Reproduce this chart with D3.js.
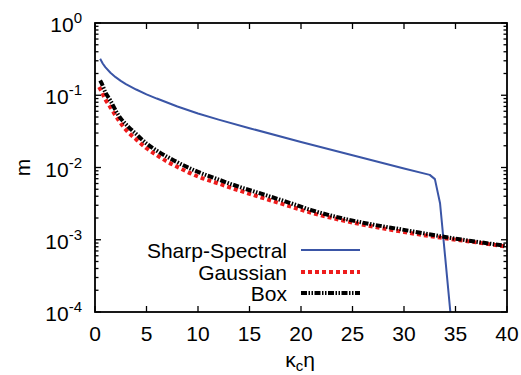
<!DOCTYPE html>
<html>
<head>
<meta charset="utf-8">
<script src="https://cdn.jsdelivr.net/npm/d3@7/dist/d3.min.js"></script>
<style>
  body { margin: 0; background: #fff; }
  text { font-family: "Liberation Sans", Arial, Helvetica, sans-serif; fill: #000; }
</style>
</head>
<body>
<div id="chart"></div>
<script>
// data (x = kappa_c eta, y = m)
const sharpX = [0.5, 0.75, 1, 1.5, 2, 2.5, 3, 4, 5, 6, 8, 10, 12, 15, 20, 25, 30, 32.5, 33, 33.5, 34, 34.7]
const sharpY = [0.32, 0.275, 0.245, 0.205, 0.178, 0.158, 0.143, 0.12, 0.103, 0.09, 0.07, 0.056, 0.046, 0.035, 0.0226, 0.0148, 0.0097, 0.0079, 0.0069, 0.0032, 0.00057, 0.00005]

const gaussX = [0.4, 0.65, 1, 1.5, 2.3, 3.2, 4, 5, 6, 7, 8, 10, 12, 14, 16, 18.6, 21, 24, 27, 30, 33.5, 37, 40]
const gaussY = [0.13, 0.112, 0.088, 0.068, 0.045, 0.031, 0.0245, 0.0185, 0.0148, 0.0121, 0.0102, 0.0075, 0.006, 0.0048, 0.0039, 0.0030, 0.00236, 0.00186, 0.00152, 0.00128, 0.00107, 0.00092, 0.0008]

const boxX = [0.5, 0.65, 1, 1.46, 2.27, 3.24, 4, 5, 5.66, 7, 8, 10, 12, 14, 16, 18.6, 21, 24, 26.4, 30, 33.5, 37, 40]
const boxY = [0.16, 0.146, 0.11, 0.086, 0.053, 0.0366, 0.029, 0.0215, 0.0184, 0.0141, 0.0118, 0.0087, 0.0068, 0.0054, 0.0044, 0.00335, 0.00257, 0.00198, 0.00168, 0.00137, 0.00112, 0.00094, 0.00082]

const xTicks = [0, 5, 10, 15, 20, 25, 30, 35, 40]
const yExponents = [0, -1, -2, -3, -4]
const legendNames = ['Sharp-Spectral', 'Gaussian', 'Box']

const W = 521, H = 375
const margin = { left: 95, top: 23, right: 14, bottom: 63 }
const fs = 21

const svg = d3.select('#chart').append('svg')
    .attr('width', W)
    .attr('height', H)

const x = d3.scaleLinear().domain([0, 40]).range([margin.left, W - margin.right])
const y = d3.scaleLog().domain([1e-4, 1]).range([H - margin.bottom, margin.top])

// clip the curves to the plot box
svg.append('clipPath').attr('id', 'clip')
    .append('rect')
    .attr('x', x(0)).attr('y', y(1))
    .attr('width', x(40) - x(0)).attr('height', y(1e-4) - y(1))

const series = [
    { name: legendNames[0], xs: sharpX, ys: sharpY, color: '#3a55a6', width: 2, dash: null, curve: d3.curveLinear },
    { name: legendNames[1], xs: gaussX, ys: gaussY, color: '#ee1c1c', width: 4, dash: '4,3', curve: d3.curveMonotoneX },
    { name: legendNames[2], xs: boxX, ys: boxY, color: '#000', width: 4, dash: '6,1.5,1.5,1.5,1.5,1.5', curve: d3.curveMonotoneX }
]

const g = svg.append('g').attr('clip-path', 'url(#clip)')
series.forEach(s => {
    const pts = s.xs.map((v, i) => [v, s.ys[i]])
    const line = d3.line()
        .x(d => x(d[0]))
        .y(d => y(d[1]))
        .curve(s.curve)
    g.append('path')
        .datum(pts)
        .attr('fill', 'none')
        .attr('stroke', s.color)
        .attr('stroke-width', s.width)
        .attr('stroke-dasharray', s.dash)
        .attr('stroke-linejoin', 'round')
        .attr('d', line)
})

// axes: ticks pointing inwards, on all four sides
const minor = []
for (let e = -4; e < 0; e++) {
    for (let k = 2; k <= 9; k++) minor.push(k * Math.pow(10, e))
}
const majors = yExponents.map(e => Math.pow(10, e))

const axisG = svg.append('g').attr('stroke', '#000').attr('stroke-width', 1.3)

xTicks.forEach(t => {
    axisG.append('line').attr('x1', x(t)).attr('x2', x(t)).attr('y1', y(1e-4)).attr('y2', y(1e-4) - 6)
    axisG.append('line').attr('x1', x(t)).attr('x2', x(t)).attr('y1', y(1)).attr('y2', y(1) + 6)
})
majors.forEach(t => {
    axisG.append('line').attr('x1', x(0)).attr('x2', x(0) + 6).attr('y1', y(t)).attr('y2', y(t))
    axisG.append('line').attr('x1', x(40)).attr('x2', x(40) - 6).attr('y1', y(t)).attr('y2', y(t))
})
minor.forEach(t => {
    axisG.append('line').attr('x1', x(0)).attr('x2', x(0) + 3.5).attr('y1', y(t)).attr('y2', y(t))
    axisG.append('line').attr('x1', x(40)).attr('x2', x(40) - 3.5).attr('y1', y(t)).attr('y2', y(t))
})

svg.append('rect')
    .attr('x', x(0)).attr('y', y(1))
    .attr('width', x(40) - x(0)).attr('height', y(1e-4) - y(1))
    .attr('fill', 'none').attr('stroke', '#000').attr('stroke-width', 1.8)

// tick labels
xTicks.forEach(t => {
    svg.append('text')
        .attr('x', x(t)).attr('y', y(1e-4) + 29)
        .attr('text-anchor', 'middle')
        .attr('font-size', fs)
        .text(t)
})
yExponents.forEach(e => {
    const tx = svg.append('text')
        .attr('x', 82).attr('y', y(Math.pow(10, e)) + 9)
        .attr('text-anchor', 'end')
        .attr('font-size', fs)
    tx.append('tspan').text('10')
    tx.append('tspan').attr('dy', -9).attr('font-size', 15).text(e === 0 ? '0' : '-' + Math.abs(e))
})

// axis titles
svg.append('text')
    .attr('transform', 'translate(30,' + (y(1e-2)) + ') rotate(-90)')
    .attr('text-anchor', 'middle')
    .attr('font-size', fs)
    .text('m')

const xl = svg.append('text')
    .attr('x', 300).attr('y', 367)
    .attr('text-anchor', 'middle')
    .attr('font-size', fs)
xl.append('tspan').text('κ')
xl.append('tspan').attr('font-size', 15).attr('dy', 4).text('c')
xl.append('tspan').attr('dy', -4).text('η')

// legend
const legY = [250, 272, 293]
series.forEach((s, i) => {
    svg.append('text')
        .attr('x', 287).attr('y', legY[i] + 7.5)
        .attr('text-anchor', 'end')
        .attr('font-size', fs)
        .text(s.name)
    svg.append('line')
        .attr('x1', 301).attr('x2', 360)
        .attr('y1', legY[i]).attr('y2', legY[i])
        .attr('stroke', s.color)
        .attr('stroke-width', s.width)
        .attr('stroke-dasharray', s.dash)
})
</script>
</body>
</html>
